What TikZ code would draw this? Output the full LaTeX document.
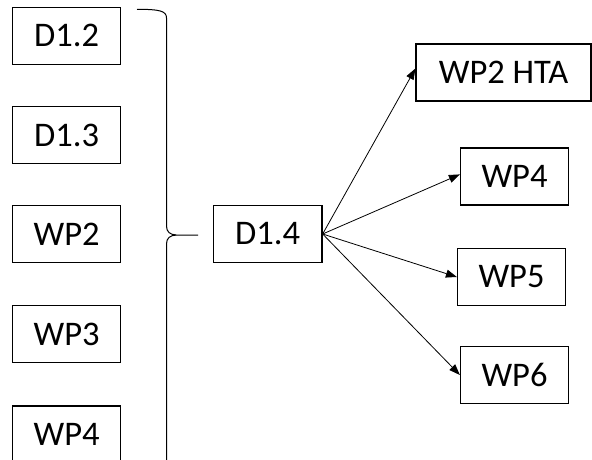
\documentclass[tikz,border=0pt]{standalone}
\usepackage{fontspec}
\setmainfont{Carlito}
\usetikzlibrary{arrows.meta}
\begin{document}
\begin{tikzpicture}[x=1pt,y=-1pt,
  box/.style={draw, line width=1.2pt, minimum height=57pt, inner sep=0pt,
    font=\fontsize{34.5}{40}\selectfont},
  smallbox/.style={box, minimum width=108pt},
  link/.style={line width=0.8pt, -{Triangle[length=11pt,width=8pt]}},
  bracket/.style={line width=1pt}]
\useasboundingbox (0,0) rectangle (592,459);
\clip (0,0) rectangle (592,459);
\fill[white] (0,0) rectangle (592,459);

% inputs
\node[smallbox] (d12) at (66.7,35.8) {D1.2};
\node[smallbox] (d13) at (66.7,135) {D1.3};
\node[smallbox] (wp2) at (66.7,234) {WP2};
\node[smallbox] (wp3) at (66.7,334) {WP3};
\node[smallbox] (wp4in) at (66.7,434.5) {WP4};

% central deliverable
\node[smallbox, minimum width=108.7pt] (d14) at (267.7,234) {D1.4};

% outputs
\node[box, minimum width=175pt] (hta) at (503.5,72.5) {WP2 HTA};
\node[smallbox] (wp4) at (514.5,176.4) {WP4};
\node[smallbox] (wp5) at (511.5,277) {WP5};
\node[smallbox] (wp6) at (514.5,375) {WP6};

% brace gathering the inputs
\coordinate (tip) at (198,235);
\draw[bracket] (137,9.3) .. controls (160,9.3) and (166.5,11) .. (166.5,18)
  -- (166.5,226) .. controls (166.5,232) and (170,234.5) .. (176,235) -- (tip);
\draw[bracket] (176,235) .. controls (170,235.5) and (166.5,238) .. (166.5,244)
  -- (166.5,462) .. controls (166.5,469) and (160,471) .. (137,471);

% links to the work packages
\draw[link] (d14.east) -- ([yshift=4pt]hta.west);
\draw[link] (d14.east) -- ([yshift=2pt]wp4.west);
\draw[link] (d14.east) -- (wp5.west);
\draw[link] (d14.east) -- (wp6.west);
\end{tikzpicture}
\end{document}
